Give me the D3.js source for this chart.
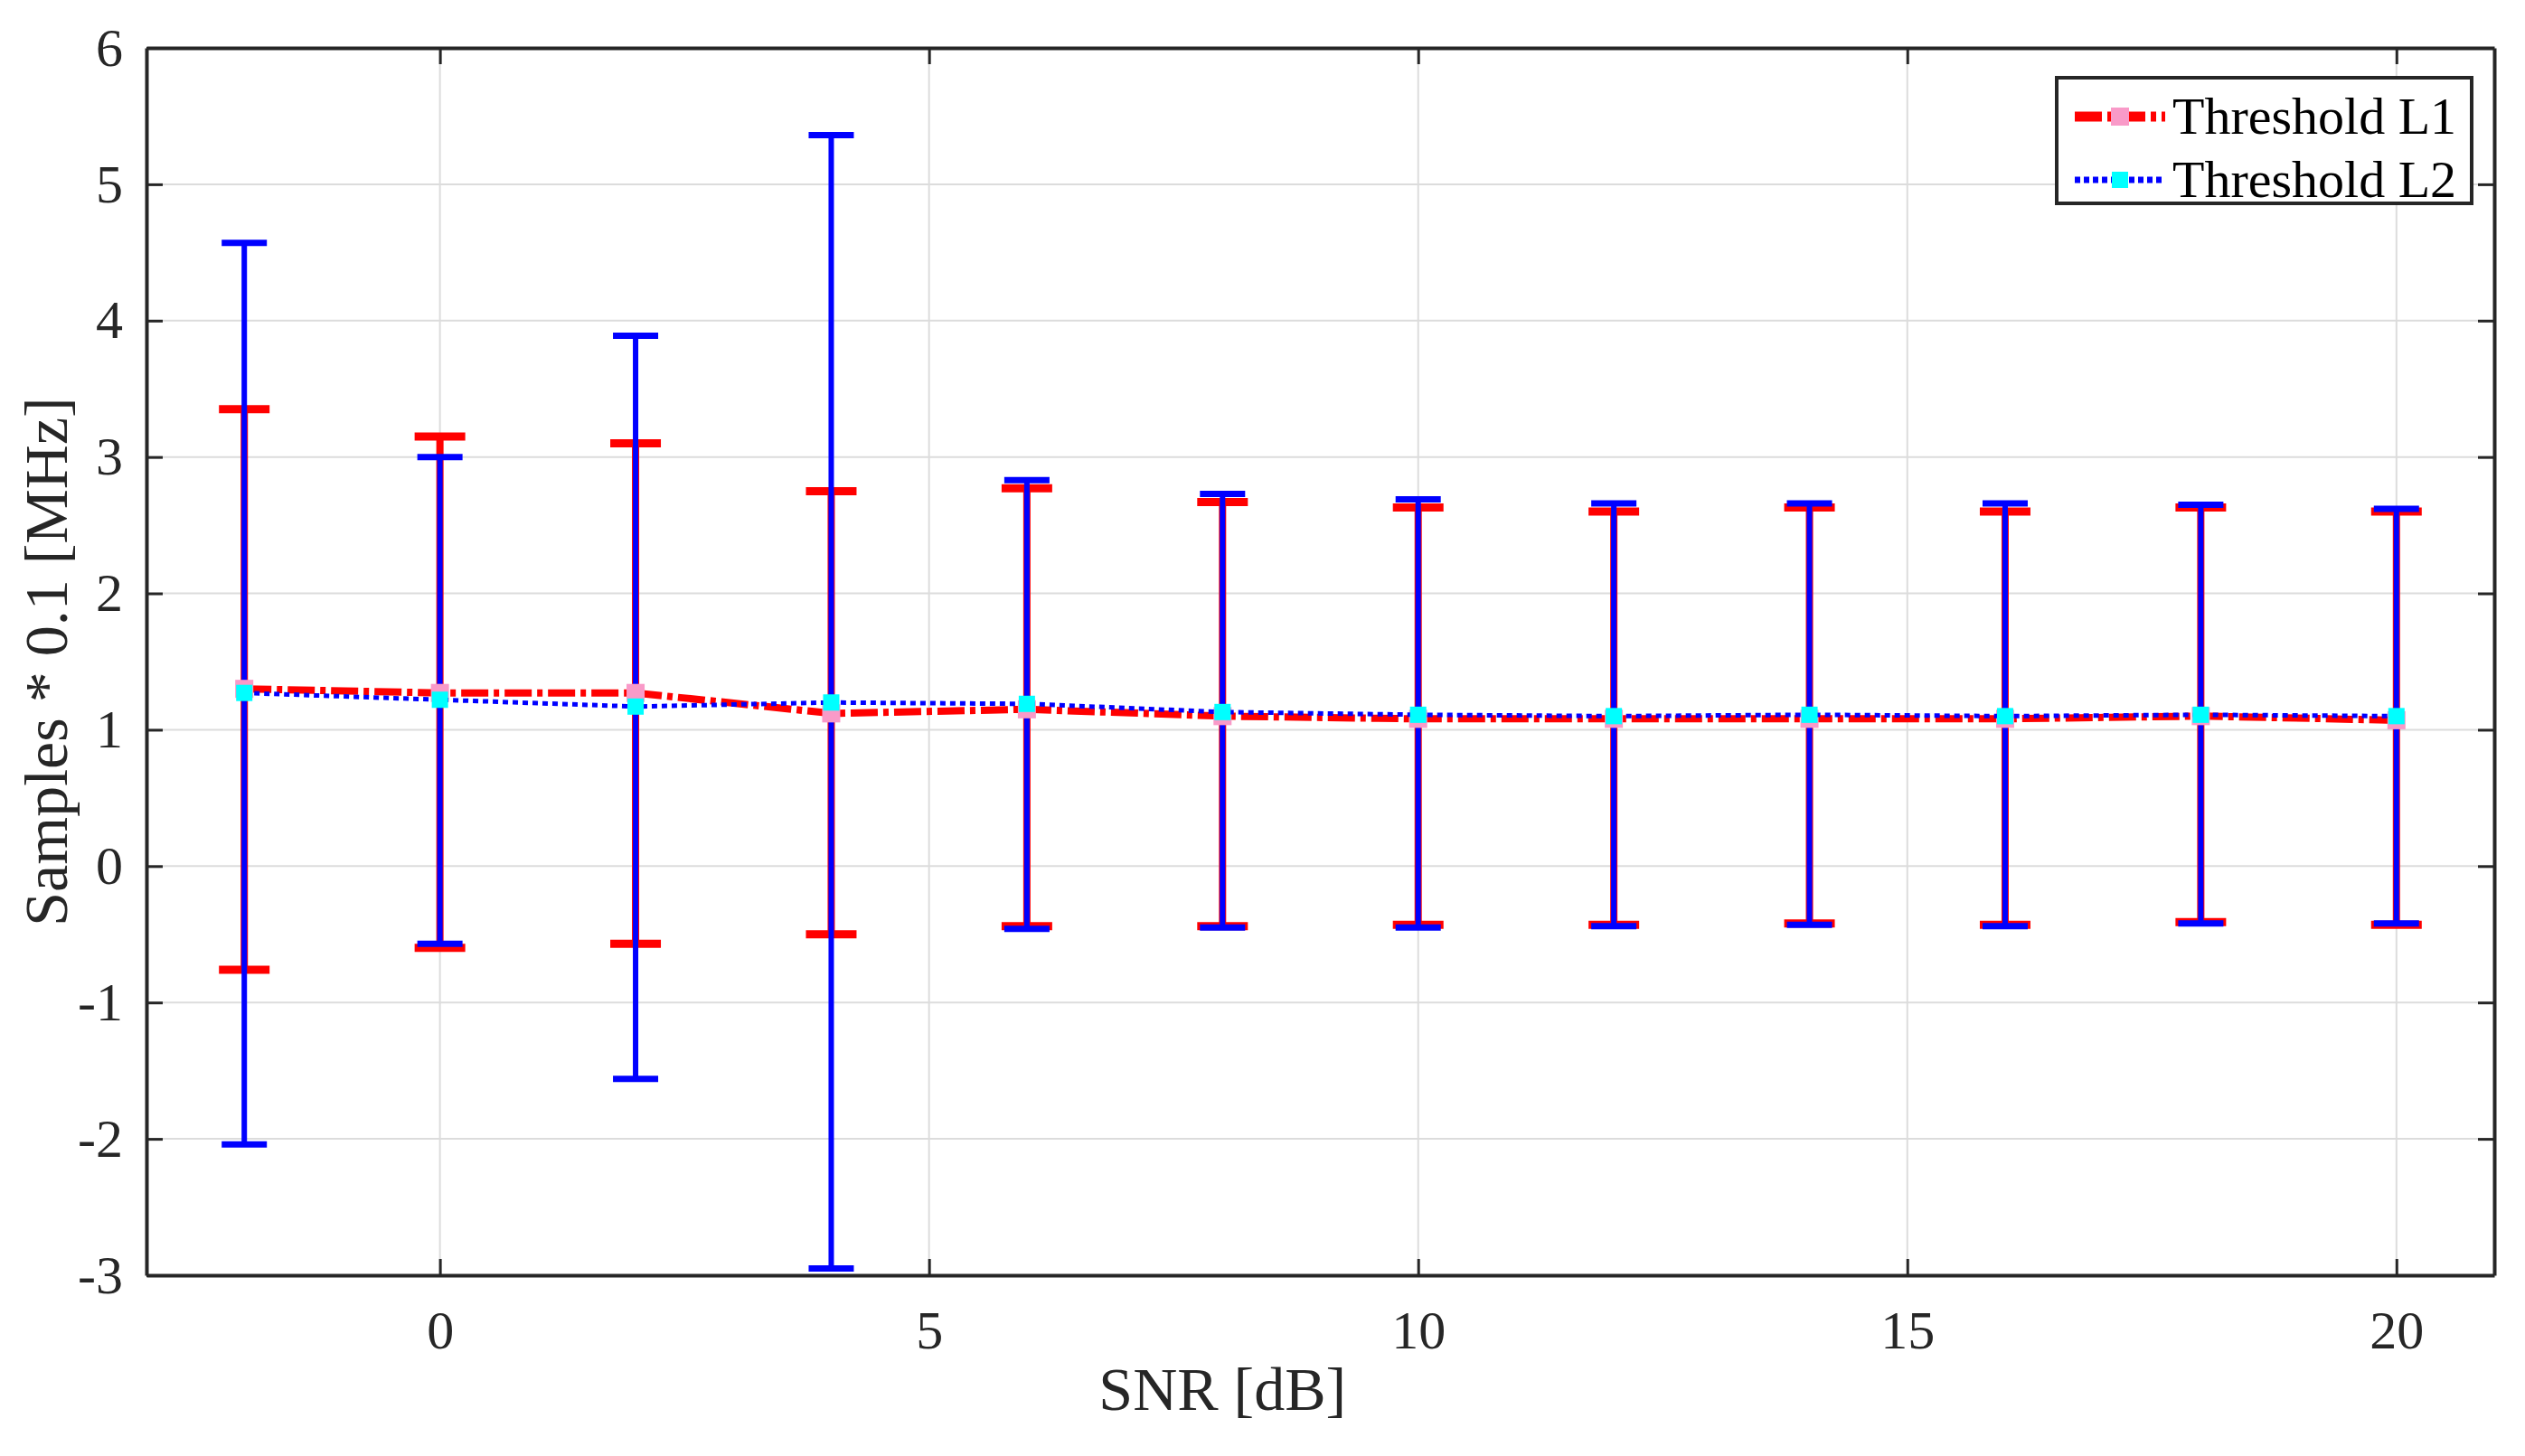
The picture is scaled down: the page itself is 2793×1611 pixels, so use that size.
<!DOCTYPE html>
<html><head><meta charset="utf-8">
<script src="https://cdn.jsdelivr.net/npm/d3@7"></script>
<style>body{margin:0;background:#fff}</style>
</head><body><div id="chart"></div>
<script>
// data
const snr = [-2, 0, 2, 4, 6, 8, 10, 12, 14, 16, 18, 20];
const l1Mean  = [1.30, 1.27, 1.27, 1.12, 1.15, 1.10, 1.08, 1.08, 1.08, 1.08, 1.10, 1.07];
const l1Upper = [3.35, 3.15, 3.10, 2.75, 2.77, 2.67, 2.63, 2.60, 2.63, 2.60, 2.63, 2.60];
const l1Lower = [-0.76, -0.60, -0.57, -0.50, -0.44, -0.44, -0.43, -0.43, -0.42, -0.43, -0.41, -0.43];
const l2Mean  = [1.27, 1.22, 1.17, 1.20, 1.19, 1.13, 1.11, 1.10, 1.11, 1.10, 1.11, 1.10];
const l2Upper = [4.57, 3.00, 3.89, 5.36, 2.83, 2.73, 2.69, 2.66, 2.66, 2.66, 2.65, 2.62];
const l2Lower = [-2.04, -0.57, -1.56, -2.95, -0.46, -0.45, -0.45, -0.44, -0.43, -0.44, -0.42, -0.42];
const xTicks = [0, 5, 10, 15, 20];
const yTicks = [-3, -2, -1, 0, 1, 2, 3, 4, 5, 6];

const W = 2793, H = 1611;
const margin = {top: 53, right: 34, bottom: 200, left: 162};
const w = W - margin.left - margin.right, h = H - margin.top - margin.bottom;
const font = "'Liberation Serif', 'DejaVu Serif', serif";

const svg = d3.select("#chart").append("svg").attr("width", W).attr("height", H)
  .style("font-family", font);
const g = svg.append("g").attr("transform", "translate(" + margin.left + "," + margin.top + ")");

const x = d3.scaleLinear().domain([-3, 21]).range([0, w]);
const y = d3.scaleLinear().domain([-3, 6]).range([h, 0]);

// grid
g.selectAll(".gx").data(xTicks).enter().append("line")
  .attr("x1", d => x(d)).attr("x2", d => x(d)).attr("y1", 0).attr("y2", h)
  .attr("stroke", "#dcdcdc").attr("stroke-width", 2);
g.selectAll(".gy").data(yTicks).enter().append("line")
  .attr("y1", d => y(d)).attr("y2", d => y(d)).attr("x1", 0).attr("x2", w)
  .attr("stroke", "#dcdcdc").attr("stroke-width", 2);

// axes (ticks inside), plain hyphen for negatives
const fmt = d => String(d);
const ax = g.append("g").attr("transform", "translate(0," + h + ")")
  .call(d3.axisBottom(x).tickValues(xTicks).tickSizeInner(-18).tickSizeOuter(0).tickPadding(38).tickFormat(fmt));
const axT = g.append("g").call(d3.axisTop(x).tickValues(xTicks).tickSizeInner(-18).tickSizeOuter(0).tickFormat(""));
const ay = g.append("g").call(d3.axisLeft(y).tickValues(yTicks).tickSizeInner(-18).tickSizeOuter(0).tickPadding(26).tickFormat(fmt));
const ayR = g.append("g").attr("transform", "translate(" + w + ",0)")
  .call(d3.axisRight(y).tickValues(yTicks).tickSizeInner(-18).tickSizeOuter(0).tickFormat(""));
[ax, axT, ay, ayR].forEach(a => {
  a.select(".domain").attr("stroke", "#262626").attr("stroke-width", 4);
  a.selectAll(".tick line").attr("stroke", "#262626").attr("stroke-width", 3);
  a.selectAll("text").attr("fill", "#262626").style("font-size", "60px").style("font-family", font);
});

// error bars
function errorBars(lo, hi, color, sw, cap) {
  const eb = g.append("g");
  snr.forEach((s, i) => {
    eb.append("line").attr("x1", x(s)).attr("x2", x(s)).attr("y1", y(lo[i])).attr("y2", y(hi[i]))
      .attr("stroke", color).attr("stroke-width", sw);
    [lo[i], hi[i]].forEach(v => eb.append("line")
      .attr("x1", x(s) - cap).attr("x2", x(s) + cap).attr("y1", y(v)).attr("y2", y(v))
      .attr("stroke", color).attr("stroke-width", sw + 1));
  });
}
errorBars(l1Lower, l1Upper, "#ff0000", 8, 28);
errorBars(l2Lower, l2Upper, "#0000ff", 6, 25);

const line = d3.line().x((d, i) => x(snr[i])).y(d => y(d));
g.append("path").datum(l1Mean).attr("d", line).attr("fill", "none")
  .attr("stroke", "#ff0000").attr("stroke-width", 8).attr("stroke-dasharray", "30,6,6,6");
g.selectAll(".m1").data(l1Mean).enter().append("rect")
  .attr("x", (d, i) => x(snr[i]) - 10).attr("y", d => y(d) - 10).attr("width", 20).attr("height", 20)
  .attr("fill", "#f99ac8");
g.append("path").datum(l2Mean).attr("d", line).attr("fill", "none")
  .attr("stroke", "#0000ff").attr("stroke-width", 5).attr("stroke-dasharray", "6,5");
g.selectAll(".m2").data(l2Mean).enter().append("rect")
  .attr("x", (d, i) => x(snr[i]) - 9).attr("y", d => y(d) - 9).attr("width", 18).attr("height", 18)
  .attr("fill", "#00ffff");

// axis titles
svg.append("text").attr("x", margin.left + x(8)).attr("y", 1560).attr("text-anchor", "middle")
  .style("font-size", "68px").attr("fill", "#262626").text("SNR [dB]");
svg.append("text").attr("transform", "translate(74," + (margin.top + h / 2) + ") rotate(-90)")
  .attr("text-anchor", "middle").style("font-size", "68px").attr("fill", "#262626")
  .text("Samples * 0.1 [MHz]");

// legend
const lg = svg.append("g").attr("transform", "translate(2275,86)");
lg.append("rect").attr("width", 459).attr("height", 139).attr("fill", "#fff")
  .attr("stroke", "#262626").attr("stroke-width", 4);
const items = [
  {label: "Threshold L1", color: "#ff0000", sw: 11, dash: "30,6,6,6", mk: "#f99ac8", ms: 20},
  {label: "Threshold L2", color: "#0000ff", sw: 7, dash: "6,4", mk: "#00ffff", ms: 18}
];
items.forEach((it, i) => {
  const cy = 43 + i * 70;
  lg.append("line").attr("x1", 20).attr("x2", 120).attr("y1", cy).attr("y2", cy)
    .attr("stroke", it.color).attr("stroke-width", it.sw).attr("stroke-dasharray", it.dash);
  lg.append("rect").attr("x", 70 - it.ms / 2).attr("y", cy - it.ms / 2).attr("width", it.ms).attr("height", it.ms)
    .attr("fill", it.mk);
  lg.append("text").attr("x", 128).attr("y", cy + 19).style("font-size", "58px").attr("fill", "#000")
    .text(it.label);
});
</script></body></html>
